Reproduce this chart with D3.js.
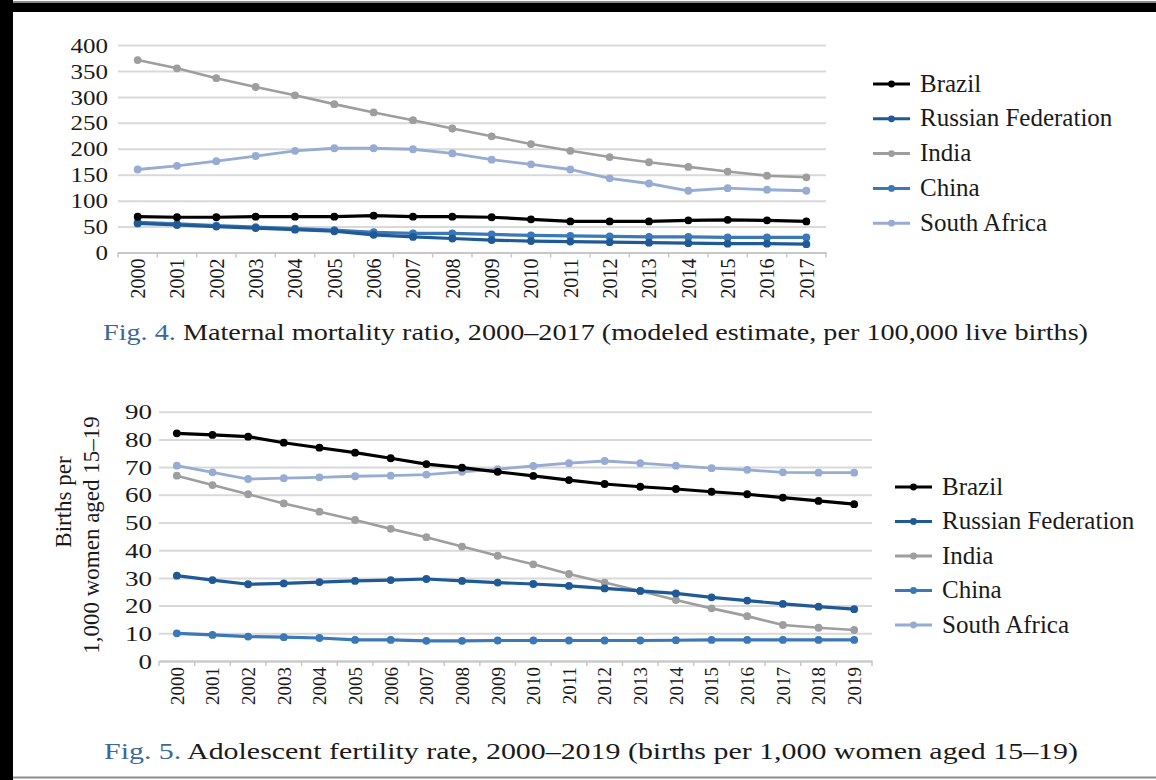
<!DOCTYPE html>
<html>
<head>
<meta charset="utf-8">
<script src="https://cdn.jsdelivr.net/npm/d3@7/dist/d3.min.js"></script>
<style>
  body { margin: 0; background: #fff; }
  svg text { font-family: 'Liberation Serif', 'Times New Roman', serif; fill: #1a1a1a; }
  .grid line { stroke: #d9d9d9; stroke-width: 2; }
  .grid .domain { display: none; }
  .xaxis .domain, .xaxis .tick line { stroke: #c8c8c8; stroke-width: 2; }
</style>
</head>
<body>
<svg id="chart" width="1156" height="780"></svg>
<script>
// categories
const countries = ["Brazil", "Russian Federation", "India", "China", "South Africa"];
const colors = ["#000000", "#1f5a96", "#9e9e9e", "#3a78b8", "#97acd3"];

// Fig. 4 - maternal mortality ratio
const mmrYears = ["2000", "2001", "2002", "2003", "2004", "2005", "2006", "2007", "2008",
                  "2009", "2010", "2011", "2012", "2013", "2014", "2015", "2016", "2017"];
const mmrBrazil = [69, 68, 68, 69, 69, 69, 71, 69, 69, 68, 64, 60, 60, 60, 62, 63, 62, 60];
const mmrRussia = [56, 53, 50, 47, 44, 41, 34, 30, 27, 24, 22, 21, 20, 19, 18, 17, 17, 16];
const mmrIndia = [371, 355, 336, 319, 303, 286, 270, 255, 239, 224, 209, 196, 184, 174, 165, 156, 148, 145];
const mmrChina = [58, 55, 52, 49, 46, 43, 39, 37, 37, 35, 33, 32, 31, 30, 30, 29, 29, 29];
const mmrSouthAfrica = [160, 167, 176, 186, 196, 201, 201, 199, 191, 179, 170, 160, 143, 133, 119, 124, 121, 119];
const mmrTicks = [0, 50, 100, 150, 200, 250, 300, 350, 400];

// Fig. 5 - adolescent fertility rate
const afrYears = ["2000", "2001", "2002", "2003", "2004", "2005", "2006", "2007", "2008", "2009",
                  "2010", "2011", "2012", "2013", "2014", "2015", "2016", "2017", "2018", "2019"];
const afrBrazil = [82.2, 81.6, 81.0, 78.8, 77.0, 75.2, 73.2, 71.1, 69.8, 68.3, 66.8, 65.3, 63.9, 62.9, 62.1, 61.1, 60.2, 59.0, 57.8, 56.6];
const afrRussia = [30.8, 29.2, 27.7, 28.0, 28.5, 28.9, 29.2, 29.6, 28.9, 28.3, 27.8, 27.1, 26.2, 25.3, 24.4, 23.0, 21.8, 20.6, 19.6, 18.7];
const afrIndia = [66.9, 63.5, 60.2, 56.9, 53.9, 50.9, 47.7, 44.7, 41.3, 38.0, 34.9, 31.4, 28.3, 25.3, 22.0, 19.0, 16.2, 13.0, 12.0, 11.2];
const afrChina = [10.0, 9.4, 8.8, 8.6, 8.3, 7.6, 7.6, 7.3, 7.3, 7.4, 7.4, 7.4, 7.4, 7.4, 7.5, 7.6, 7.6, 7.6, 7.6, 7.6];
const afrSouthAfrica = [70.5, 68.1, 65.7, 66.0, 66.3, 66.7, 66.9, 67.3, 68.3, 69.3, 70.4, 71.4, 72.2, 71.4, 70.5, 69.6, 69.0, 68.1, 68.0, 68.0];
const afrTicks = [0, 10, 20, 30, 40, 50, 60, 70, 80, 90];

const serif = "'Liberation Serif', 'Times New Roman', serif";

/** Class drawing one multi-line chart with legend. */
class LineChart {
    constructor(svg, opts) {
        this.svg = svg;
        this.opts = opts;
    }

    draw() {
        let o = this.opts;
        let g = this.svg.append("g");

        let x = d3.scaleBand().domain(o.years).range([o.left, o.right]);
        let y = d3.scaleLinear().domain([0, o.ticks[o.ticks.length - 1]]).range([o.bottom, o.top]);

        // gridlines
        g.append("g").attr("class", "grid")
          .attr("transform", "translate(" + o.left + ",0)")
          .call(d3.axisLeft(y).tickValues(o.ticks).tickSize(-(o.right - o.left)).tickFormat(""));

        // y tick labels (the scan has them a bit wide, so stretch them)
        let ya = g.append("g")
          .attr("transform", "translate(" + o.labelX + ",0)")
          .call(d3.axisLeft(y).tickValues(o.ticks).tickSize(0).tickPadding(0))
          .attr("font-family", serif)
          .attr("font-size", o.tickFont);
        ya.select(".domain").remove();
        ya.selectAll("text").attr("dy", "0.34em").attr("fill", "#1a1a1a")
          .attr("textLength", d => String(d).length * o.digitW)
          .attr("lengthAdjust", "spacingAndGlyphs");

        // x axis, rotated year labels
        let xa = g.append("g").attr("class", "xaxis")
          .attr("transform", "translate(0," + o.bottom + ")")
          .call(d3.axisBottom(x).tickSize(0).tickSizeOuter(0))
          .attr("font-family", serif)
          .attr("font-size", o.yearFont);
        xa.selectAll("text")
          .attr("transform", "rotate(-90)")
          .attr("x", -6).attr("y", 0).attr("dy", "0.36em")
          .style("text-anchor", "end")
          .attr("fill", "#1a1a1a");
        // small ticks between categories
        xa.selectAll(".bt").data(o.years.concat(["end"])).enter().append("line")
          .attr("class", "bt")
          .attr("x1", (d, i) => o.left + i * x.bandwidth())
          .attr("x2", (d, i) => o.left + i * x.bandwidth())
          .attr("y1", 0).attr("y2", 5)
          .attr("stroke", "#c8c8c8").attr("stroke-width", 1.5);

        let line = d3.line()
          .x((d, i) => x(o.years[i]) + x.bandwidth() / 2)
          .y(d => y(d));

        // lines go back to front: South Africa first, Brazil last
        let order = [4, 2, 3, 1, 0];
        order.forEach(k => {
            let vals = o.series[k];
            g.append("path").datum(vals)
              .attr("d", line)
              .attr("fill", "none")
              .attr("stroke", colors[k])
              .attr("stroke-width", o.widths[k]);
            g.selectAll(".pt" + k).data(vals).enter().append("circle")
              .attr("cx", (d, i) => x(o.years[i]) + x.bandwidth() / 2)
              .attr("cy", d => y(d))
              .attr("r", 3.9)
              .attr("fill", colors[k]);
        });

        // legend
        let leg = g.append("g").attr("transform", "translate(" + o.legX + "," + o.legY + ")");
        countries.forEach((c, k) => {
            let row = leg.append("g").attr("transform", "translate(0," + k * o.legStep + ")");
            row.append("line").attr("x1", 0).attr("x2", 37).attr("y1", 0).attr("y2", 0)
              .attr("stroke", colors[k]).attr("stroke-width", 3);
            row.append("circle").attr("cx", 18.5).attr("cy", 0).attr("r", 3.4).attr("fill", colors[k]);
            row.append("text").attr("x", o.legText).attr("y", 0).attr("dy", "0.3em")
              .attr("font-size", o.legFont)
              .text(c);
        });
    }
}

let svg = d3.select("#chart");

// frame of the scanned page
svg.append("rect").attr("x", 0).attr("y", 3).attr("width", 1156).attr("height", 9).attr("fill", "#000");
svg.append("line").attr("x1", 0).attr("x2", 1156).attr("y1", 2).attr("y2", 2)
   .attr("stroke", "#8c8c8c").attr("stroke-width", 2);
svg.append("rect").attr("x", 0).attr("y", 0).attr("width", 13).attr("height", 780).attr("fill", "#000");
svg.append("line").attr("x1", 13).attr("x2", 1156).attr("y1", 777.5).attr("y2", 777.5)
   .attr("stroke", "#8c8c8c").attr("stroke-width", 2);

new LineChart(svg, {
    years: mmrYears,
    series: [mmrBrazil, mmrRussia, mmrIndia, mmrChina, mmrSouthAfrica],
    widths: [3.2, 3.2, 2.6, 3.2, 2.8],
    ticks: mmrTicks,
    left: 118, right: 826, top: 45, bottom: 252.5,
    labelX: 108, tickFont: 21, digitW: 12.5, yearFont: 20,
    legX: 873, legY: 84, legStep: 34.8, legText: 47, legFont: 25
}).draw();

new LineChart(svg, {
    years: afrYears,
    series: [afrBrazil, afrRussia, afrIndia, afrChina, afrSouthAfrica],
    widths: [3.2, 3.2, 2.6, 3.2, 2.8],
    ticks: afrTicks,
    left: 159, right: 872, top: 411.7, bottom: 661,
    labelX: 152, tickFont: 21, digitW: 13.5, yearFont: 19,
    legX: 895, legY: 487, legStep: 34.5, legText: 47, legFont: 25
}).draw();

// y-axis title of Fig. 5
svg.append("text").attr("transform", "translate(71,502) rotate(-90)")
   .attr("text-anchor", "middle").attr("font-size", 23).text("Births per");
svg.append("text").attr("transform", "translate(99,535) rotate(-90)")
   .attr("text-anchor", "middle").attr("font-size", 23).text("1,000 women aged 15–19");

// captions
let cap4 = svg.append("text").attr("x", 103).attr("y", 340).attr("font-size", 24)
   .attr("textLength", 985).attr("lengthAdjust", "spacingAndGlyphs");
cap4.append("tspan").attr("fill", "#3b679a").text("Fig. 4. ");
cap4.append("tspan").text("Maternal mortality ratio, 2000–2017 (modeled estimate, per 100,000 live births)");

let cap5 = svg.append("text").attr("x", 104).attr("y", 759).attr("font-size", 24)
   .attr("textLength", 974).attr("lengthAdjust", "spacingAndGlyphs");
cap5.append("tspan").attr("fill", "#3b679a").text("Fig. 5. ");
cap5.append("tspan").text("Adolescent fertility rate, 2000–2019 (births per 1,000 women aged 15–19)");
</script>
</body>
</html>
